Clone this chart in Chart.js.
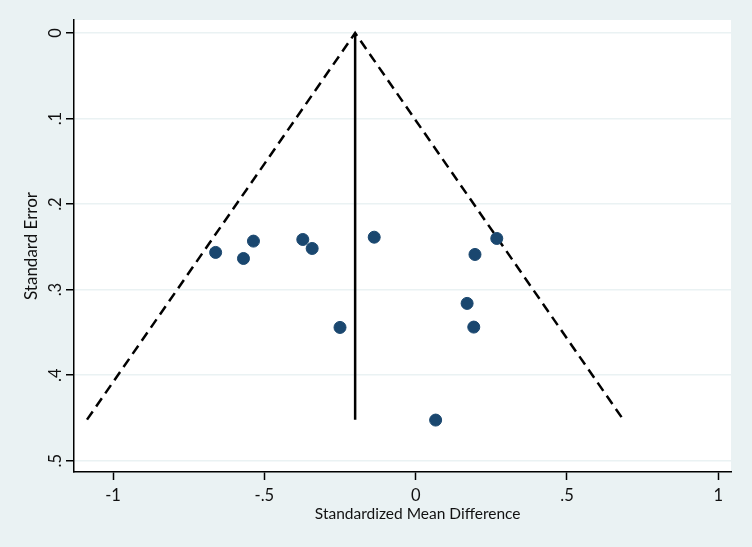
<!DOCTYPE html>
<html>
<head>
<meta charset="utf-8">
<script src="https://cdn.jsdelivr.net/npm/chart.js@4.4.1/dist/chart.umd.min.js"></script>
<style>
  html, body { margin: 0; padding: 0; background: #eaf2f3; }
  #wrap { width: 752px; height: 547px; }
</style>
</head>
<body>
<div id="wrap"><canvas id="c" width="752" height="547"></canvas></div>
<script>
// Study effects (standardized mean difference) and standard errors
const studySMD = [-0.661, -0.569, -0.536, -0.373, -0.342, -0.250, -0.137, 0.268, 0.196, 0.170, 0.192, 0.066];
const studySE  = [0.2565, 0.2636, 0.2433, 0.2414, 0.2519, 0.3442, 0.2387, 0.2402, 0.2589, 0.3161, 0.3438, 0.4525];

// Pseudo 95% confidence limits (funnel) and pooled estimate line
const funnelX = [-1.086, -0.200, 0.686];
const funnelY = [0.452, 0.000, 0.452];
const pooledX = [-0.200, -0.200];
const pooledY = [0.000, 0.452];

// Tick values and labels
const xTickValues = [-1, -0.5, 0, 0.5, 1];
const xTickLabels = ['-1', '-.5', '0', '.5', '1'];
const yTickValues = [0, 0.1, 0.2, 0.3, 0.4, 0.5];
const yTickLabels = ['0', '.1', '.2', '.3', '.4', '.5'];

const xTitle = 'Standardized Mean Difference';
const yTitle = 'Standard Error';

const toPts = (xs, ys) => xs.map((x, i) => ({x: x, y: ys[i]}));
const FONT = 'Lato, "Open Sans", sans-serif';

const bgPlugin = {
  id: 'bg',
  beforeDraw(chart) {
    const {ctx, chartArea: a} = chart;
    ctx.save();
    ctx.fillStyle = '#eaf2f3';
    ctx.fillRect(0, 0, chart.width, chart.height);
    ctx.fillStyle = '#ffffff';
    ctx.fillRect(a.left, a.top, a.right - a.left, a.bottom - a.top);
    ctx.restore();
  },
  afterDraw(chart) {
    const {ctx} = chart;
    const xs = chart.scales.x;
    ctx.save();
    ctx.fillStyle = '#111111';
    ctx.font = '15.5px ' + FONT;
    ctx.textAlign = 'center';
    ctx.textBaseline = 'middle';
    ctx.fillText(xTitle, xs.getPixelForValue(0) + 2, 514);
    ctx.restore();
  }
};

new Chart(document.getElementById('c'), {
  type: 'scatter',
  data: {
    datasets: [
      {
        label: 'studies',
        data: toPts(studySMD, studySE),
        backgroundColor: '#1a476f',
        borderColor: '#1a476f',
        pointRadius: 6,
        pointHoverRadius: 6,
        order: 0
      },
      {
        label: 'funnel',
        data: toPts(funnelX, funnelY),
        showLine: true,
        borderColor: '#000000',
        borderWidth: 2.5,
        borderDash: [10, 6],
        pointRadius: 0,
        fill: false,
        order: 1
      },
      {
        label: 'pooled',
        data: toPts(pooledX, pooledY),
        showLine: true,
        borderColor: '#000000',
        borderWidth: 2.5,
        pointRadius: 0,
        fill: false,
        order: 1
      }
    ]
  },
  options: {
    responsive: false,
    animation: false,
    events: [],
    layout: { padding: { left: 0, top: 20, right: 21, bottom: 0 } },
    plugins: { legend: { display: false }, tooltip: { enabled: false } },
    scales: {
      x: {
        type: 'linear',
        min: -1.129,
        max: 1.042,
        afterFit(s) { s.height = 75; },
        afterBuildTicks(s) { s.ticks = xTickValues.map(v => ({value: v})); },
        border: { display: true, color: '#000000', width: 1.5 },
        grid: { drawOnChartArea: false, drawTicks: true, tickLength: 8, tickColor: '#000000', tickWidth: 1.5 },
        ticks: {
          padding: 6,
          color: '#111111',
          font: { size: 16.5, family: FONT },
          maxRotation: 0,
          minRotation: 0,
          callback(v) { const i = xTickValues.indexOf(v); return i >= 0 ? xTickLabels[i] : ''; }
        },
        title: { display: false }
      },
      y: {
        type: 'linear',
        reverse: true,
        min: -0.0152,
        max: 0.5132,
        afterFit(s) { s.width = 74; },
        afterBuildTicks(s) { s.ticks = yTickValues.map(v => ({value: v})); },
        border: { display: true, color: '#000000', width: 1.5 },
        grid: { color: '#eaf2f3', lineWidth: 1.5, drawTicks: true, tickLength: 8, tickColor: '#000000', tickWidth: 1.5 },
        ticks: {
          padding: 4,
          color: '#111111',
          font: { size: 16.5, family: FONT },
          minRotation: 90,
          maxRotation: 90,
          crossAlign: 'center',
          callback(v) { const i = yTickValues.indexOf(v); return i >= 0 ? yTickLabels[i] : ''; }
        },
        title: {
          display: true,
          text: yTitle,
          color: '#111111',
          font: { size: 17, family: FONT },
          padding: { top: 21, bottom: 0 }
        }
      }
    }
  },
  plugins: [bgPlugin]
});
</script>
</body>
</html>
